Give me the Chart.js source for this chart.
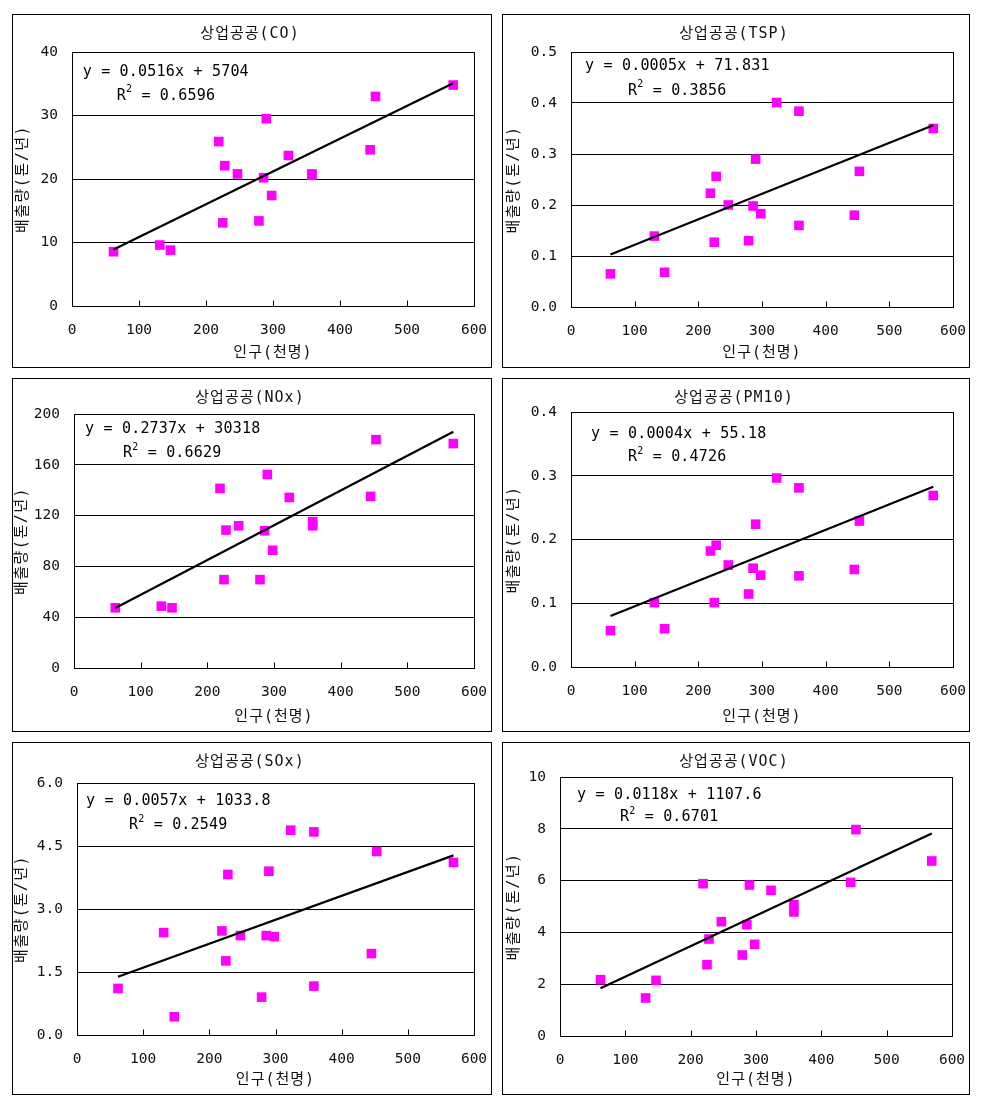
<!DOCTYPE html>
<html><head><meta charset="utf-8">
<script src="https://cdn.jsdelivr.net/npm/chart.js@4.4.0/dist/chart.umd.min.js"></script>
<style>
html,body{margin:0;padding:0;background:#fff;}
body{width:994px;height:1100px;position:relative;overflow:hidden;}
.frame{position:absolute;border:1px solid #000;box-sizing:border-box;background:#fff;}
.frame div{position:relative;width:100%;height:100%;}
</style></head><body>
<script>
// ---- data ----
const population = [62,131,147,219,225,228,247,279,286,290,298,323,358,358,445,453,569];
const coValues   = [8.55,9.6,8.8,25.9,13.1,22.1,20.8,13.4,20.2,29.5,17.4,23.7,20.8,20.6,24.6,33.0,34.8];
const tspValues  = [0.065,0.139,0.068,0.223,0.127,0.256,0.200,0.130,0.198,0.290,0.183,0.401,0.384,0.160,0.180,0.266,0.350];
const noxValues  = [47.4,48.7,47.4,141.4,69.6,108.6,112.0,69.6,108.1,152.4,92.7,134.3,115.2,112.0,135.1,179.8,176.7];
const pm10Values = [0.057,0.101,0.060,0.182,0.101,0.191,0.160,0.1145,0.155,0.224,0.144,0.2965,0.281,0.143,0.153,0.229,0.269];
const soxValues  = [1.108,2.438,0.435,2.478,1.765,3.823,2.367,0.902,2.367,3.90,2.343,4.876,4.836,1.164,1.939,4.37,4.108];
const vocValues  = [2.175,1.467,2.15,5.88,2.754,3.745,4.414,3.127,4.30,5.83,3.54,5.624,5.07,4.79,5.93,7.97,6.757];

const chartTitles = ['상업공공(CO)','상업공공(TSP)','상업공공(NOx)','상업공공(PM10)','상업공공(SOx)','상업공공(VOC)'];
const xAxisTitle = '인구(천명)';
const yAxisTitle = '배출량(톤/년)';
const trendSlopes = [0.0516,0.0005,0.2737,0.0004,0.0057,0.0118];
const trendIntercepts = [5.704,0.071831,30.318,0.05518,1.0338,1.1076];
const equationLabels = ['y = 0.0516x + 5704','y = 0.0005x + 71.831','y = 0.2737x + 30318','y = 0.0004x + 55.18','y = 0.0057x + 1033.8','y = 0.0118x + 1107.6'];
const r2Labels = ['0.6596','0.3856','0.6629','0.4726','0.2549','0.6701'];
const xTickValues = [0,100,200,300,400,500,600];
const yMaxes = [40,0.5,200,0.4,6,10];
const ySteps = [10,0.1,40,0.1,1.5,2];
const yDecimals = [0,1,0,1,1,0];
const seriesList = [coValues,tspValues,noxValues,pm10Values,soxValues,vocValues];

// ---- layout / style ----
const layouts = [
  {frame:[12,14,480,354],  pad:{left:59,top:37,right:17,bottom:61}, eq1:[10.7,20.5], eq2:[44.7,43.8], yTx:10.5, xTy:338},
  {frame:[502,14,468,354], pad:{left:68,top:37,right:16,bottom:60}, eq1:[14,13.8],   eq2:[57,38.8],   yTx:11,   xTy:338},
  {frame:[12,378,480,354], pad:{left:61,top:35,right:17,bottom:63}, eq1:[11,15],     eq2:[49,39],     yTx:9.5,  xTy:338},
  {frame:[502,378,468,354],pad:{left:68,top:33,right:16,bottom:64}, eq1:[20,22],     eq2:[57,45.5],   yTx:11,   xTy:338},
  {frame:[12,742,480,353], pad:{left:64,top:40,right:17,bottom:59}, eq1:[9,18],      eq2:[52,42],     yTx:9,    xTy:337.5},
  {frame:[502,742,468,353],pad:{left:57,top:34,right:17,bottom:58}, eq1:[17,18],     eq2:[60,40.5],   yTx:11,   xTy:337.5}
];
const MONO = "'DejaVu Sans Mono', 'Noto Sans CJK KR', monospace";

const panelDecor = {
  id:'panelDecor',
  beforeDatasetsDraw(chart, args, o){
    const {ctx, chartArea:a} = chart;
    const xs = chart.scales.x;
    ctx.save();
    ctx.strokeStyle = '#000'; ctx.lineWidth = 1;
    const L = Math.round(a.left)+0.5, T = Math.round(a.top)+0.5;
    const R = Math.round(a.right)+0.5, B = Math.round(a.bottom)+0.5;
    ctx.strokeRect(L, T, R-L, B-T);
    ctx.beginPath();
    xTickValues.forEach(v=>{
      if (v===0 || v===600) return;
      const px = Math.round(xs.getPixelForValue(v))+0.5;
      ctx.moveTo(px, B); ctx.lineTo(px, B-6);
    });
    ctx.stroke();
    ctx.restore();
  },
  afterDraw(chart, args, o){
    const {ctx, chartArea:a, width} = chart;
    ctx.save();
    ctx.fillStyle = '#111';
    ctx.textBaseline = 'middle';
    ctx.font = "15px " + MONO;
    ctx.letterSpacing = '1px';
    ctx.textAlign = 'center';
    ctx.fillText(o.title, width/2 - 2, 19);
    ctx.fillText(xAxisTitle, (a.left+a.right)/2, o.xTy);
    ctx.save();
    ctx.translate(o.yTx, (a.top+a.bottom)/2);
    ctx.rotate(-Math.PI/2);
    ctx.letterSpacing = '1.5px';
    ctx.fillText(yAxisTitle, 0, 0);
    ctx.restore();
    ctx.textAlign = 'left';
    ctx.letterSpacing = '0.2px';
    ctx.font = "15px " + MONO;
    ctx.fillStyle = '#000';
    ctx.fillText(o.eq, a.left + o.eq1[0], a.top + o.eq1[1]);
    let x = a.left + o.eq2[0], y = a.top + o.eq2[1];
    ctx.fillText('R', x, y);
    x += ctx.measureText('R').width;
    ctx.font = "10px " + MONO;
    ctx.fillText('2', x, y - 6);
    x += ctx.measureText('2').width;
    ctx.font = "15px " + MONO;
    ctx.fillText(' = ' + o.r2, x, y);
    ctx.restore();
  }
};

seriesList.forEach((vals, i) => {
  const lay = layouts[i];
  const f = document.createElement('div');
  f.className = 'frame';
  f.style.left = lay.frame[0]+'px'; f.style.top = lay.frame[1]+'px';
  f.style.width = lay.frame[2]+'px'; f.style.height = lay.frame[3]+'px';
  const inner = document.createElement('div');
  const cv = document.createElement('canvas');
  inner.appendChild(cv); f.appendChild(inner); document.body.appendChild(f);

  const pts = population.map((p, k) => ({x:p, y:vals[k]}));
  const xmin = Math.min(...population), xmax = Math.max(...population);
  const trend = [xmin, xmax].map(x => ({x, y: trendSlopes[i]*x + trendIntercepts[i]}));

  new Chart(cv, {
    type:'scatter',
    data:{ datasets:[
      {data:trend, showLine:true, borderColor:'#000', borderWidth:2.2, pointRadius:0, fill:false, tension:0},
      {data:pts, pointStyle:'rect', pointRadius:6.8, pointHoverRadius:6.8, backgroundColor:'#ff00ff', borderColor:'#ff00ff', borderWidth:0}
    ]},
    options:{
      responsive:true, maintainAspectRatio:false, animation:false, devicePixelRatio:1,
      layout:{padding:{left:0, top:lay.pad.top, right:lay.pad.right, bottom:0}},
      plugins:{legend:{display:false}, tooltip:{enabled:false},
        panelDecor:{title:chartTitles[i], eq:equationLabels[i], r2:r2Labels[i], eq1:lay.eq1, eq2:lay.eq2, yTx:lay.yTx, xTy:lay.xTy}},
      scales:{
        x:{type:'linear', min:0, max:600,
           afterBuildTicks: s => { s.ticks = xTickValues.map(v=>({value:v})); },
           afterFit: s => { s.height = lay.pad.bottom; s.paddingLeft = 0; s.paddingRight = 0; },
           grid:{display:false, drawTicks:false}, border:{display:false},
           ticks:{padding:16, color:'#111', font:{family:MONO, size:14.5}, maxRotation:0, autoSkip:false}},
        y:{type:'linear', min:0, max:yMaxes[i],
           afterFit: s => { s.width = lay.pad.left; s.paddingTop = 0; s.paddingBottom = 0; },
           grid:{color:'#000', lineWidth:1, drawTicks:false}, border:{display:false},
           ticks:{stepSize:ySteps[i], padding:14, color:'#111', font:{family:MONO, size:14.5},
                  callback: v => Number(v).toFixed(yDecimals[i])}}
      }
    },
    plugins:[panelDecor]
  });
});
</script>
</body></html>
